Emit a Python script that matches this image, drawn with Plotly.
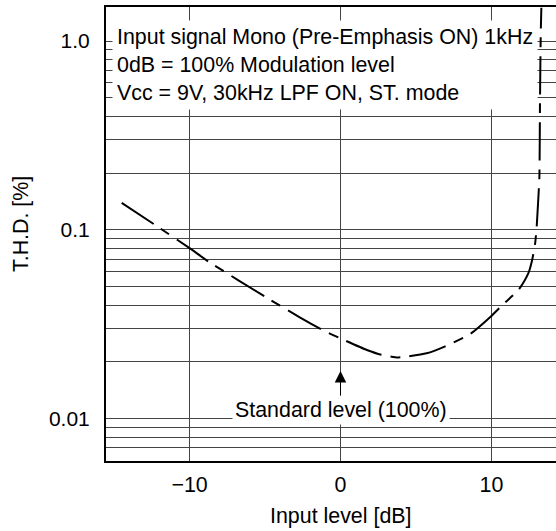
import math
import plotly.graph_objects as go

# ---- data ----
input_level_db = [-14.5, -12.2, -10.0, -8.7, -4.9, -2.7, -1.2, 0.0, 1.75, 2.7, 3.8, 4.4,
                  5.7, 6.9, 8.6, 10.0, 10.9, 11.8, 12.45, 12.7, 12.9, 13.0, 13.09,
                  13.18, 13.22, 13.27, 13.31]
thd_percent = [0.139, 0.105, 0.080, 0.0675, 0.0438, 0.0344, 0.0295, 0.0266, 0.0231, 0.0218,
               0.0211, 0.0213, 0.0222, 0.0241, 0.0281, 0.035, 0.0412, 0.0481, 0.059, 0.0693,
               0.085, 0.104, 0.138, 0.191, 0.49, 1.10, 1.5]

x_tickvals = [-10, 0, 10]
x_ticktext = ["\u221210", "0", "10"]

y_tickvals = [0.006, 0.007, 0.008, 0.009, 0.01, 0.02, 0.03, 0.04, 0.05, 0.06, 0.07, 0.08, 0.09,
              0.1, 0.2, 0.3, 0.4, 0.5, 0.6, 0.7, 0.8, 0.9, 1.0]
y_ticktext = ["", "", "", "", "0.01", "", "", "", "", "", "", "", "",
              "0.1", "", "", "", "", "", "", "", "", "1.0"]

condition_lines = ["Input signal Mono (Pre-Emphasis ON) 1kHz",
                   "0dB = 100% Modulation level",
                   "Vcc = 9V, 30kHz LPF ON, ST. mode"]
standard_label = "Standard level (100%)"
standard_x = 0
standard_y = 0.0179

FONT = "Liberation Sans, Arial, sans-serif"
FS = 21.4

fig = go.Figure()
fig.add_trace(go.Scatter(
    x=input_level_db, y=thd_percent, mode="lines",
    line=dict(color="black", width=2, dash="38px,9px,10px,9px", shape="spline", smoothing=0.5),
    showlegend=False, hoverinfo="skip"))

fig.update_layout(
    width=556, height=531,
    margin=dict(l=106, r=0, t=7, b=70),
    paper_bgcolor="white", plot_bgcolor="white",
    font=dict(family=FONT, size=FS, color="black"),
    xaxis=dict(range=[-15.54, 14.28], tickvals=x_tickvals, ticktext=x_ticktext,
               showgrid=True, gridcolor="#444", gridwidth=1, zeroline=False,
               showline=True, linecolor="black", linewidth=2, mirror=True,
               ticks="outside", ticklen=3, tickcolor="rgba(0,0,0,0)",
               tickfont=dict(size=FS)),
    yaxis=dict(type="log", range=[math.log10(0.00597), math.log10(1.514)],
               tickvals=y_tickvals, ticktext=y_ticktext,
               showgrid=True, gridcolor="#444", gridwidth=1, zeroline=False,
               showline=True, linecolor="black", linewidth=2, mirror=False,
               ticks="outside", ticklen=10, tickcolor="rgba(0,0,0,0)",
               tickfont=dict(size=21)),
)

fig.add_annotation(
    xref="paper", yref="paper", x=0.0144, y=0.9714, xanchor="left", yanchor="top",
    text="<br>".join(condition_lines), align="left", showarrow=False,
    bgcolor="white", borderpad=4, font=dict(size=FS))

fig.add_annotation(
    x=standard_x, y=math.log10(standard_y), text=standard_label, showarrow=True,
    ax=0, ay=39, arrowhead=2, arrowsize=2.3, arrowwidth=1, arrowcolor="black",
    standoff=0, bgcolor="white", borderpad=2, font=dict(size=FS))

fig.add_annotation(
    xref="paper", yref="paper", x=(21 - 106) / 450, y=(461 - 224) / 454,
    text="T.H.D. [%]", textangle=-90, showarrow=False, xanchor="center", yanchor="middle",
    font=dict(size=FS))

fig.add_annotation(
    xref="paper", yref="paper", x=(341 - 106) / 450, y=-(516 - 461) / 454,
    text="Input level [dB]", showarrow=False, xanchor="center", yanchor="middle",
    font=dict(size=FS))

fig.write_html("out.html")
